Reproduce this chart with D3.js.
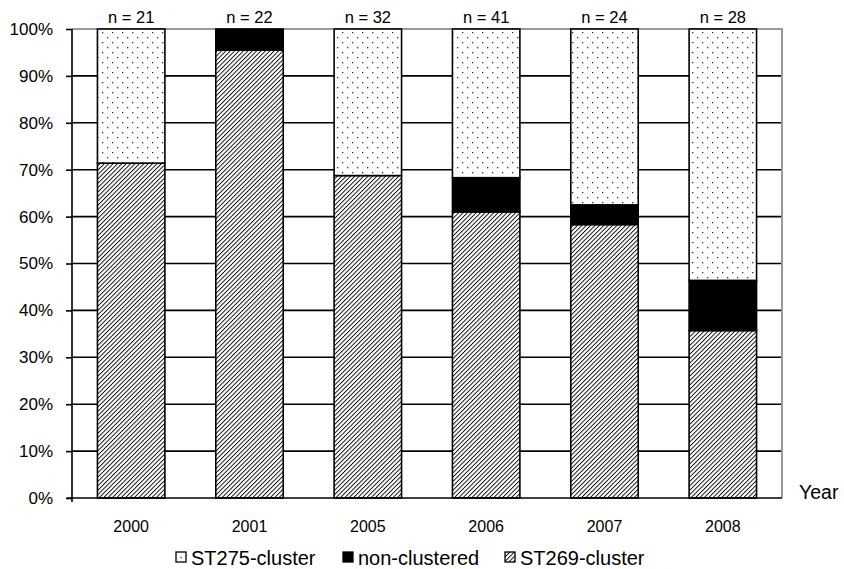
<!DOCTYPE html>
<html><head><meta charset="utf-8">
<script src="https://cdn.jsdelivr.net/npm/d3@7"></script>
<style>body{margin:0;background:#fff}svg{display:block;font-family:"Liberation Sans",Arial,sans-serif}</style>
</head><body>
<svg id="c" width="844" height="569"></svg>
<script>
const years = ["2000","2001","2005","2006","2007","2008"];
const nLabels = ["n = 21","n = 22","n = 32","n = 41","n = 24","n = 28"];
const st269 = [71.4, 95.5, 68.75, 61.0, 58.3, 35.7];
const nonClustered = [0, 4.5, 0, 7.3, 4.2, 10.7];
const st275 = [28.6, 0, 31.25, 31.7, 37.5, 53.6];
const yTicks = [0,10,20,30,40,50,60,70,80,90,100];
const seriesNames = ["ST269-cluster","non-clustered","ST275-cluster"];
const legendOrder = ["ST275-cluster","non-clustered","ST269-cluster"];

const FF = "Liberation Sans, Arial, sans-serif";
const svg = d3.select("#c");
const m = {l:72, r:782, t:29, b:498};
const x = d3.scaleBand().domain(years).range([m.l, m.r]).paddingInner(0.43).paddingOuter(0.215);
const y = d3.scaleLinear().domain([0,100]).range([m.b, m.t]);

const defs = svg.append("defs");
const P = 3.1;
const hatch = defs.append("pattern").attr("id","hatch").attr("patternUnits","userSpaceOnUse")
  .attr("width",P).attr("height",P).attr("patternTransform","rotate(45)");
hatch.append("rect").attr("width",P).attr("height",P).attr("fill","#fff");
hatch.append("line").attr("x1",0).attr("y1",0).attr("x2",0).attr("y2",P).attr("stroke","#000").attr("stroke-width",1.8);
const dots = defs.append("pattern").attr("id","dots").attr("patternUnits","userSpaceOnUse")
  .attr("width",10).attr("height",10);
dots.append("rect").attr("width",10).attr("height",10).attr("fill","#fff");
dots.append("rect").attr("x",2).attr("y",2).attr("width",1.3).attr("height",1.3).attr("fill","#333");
dots.append("rect").attr("x",7).attr("y",7).attr("width",1.3).attr("height",1.3).attr("fill","#333");

const fills = {"ST269-cluster":"url(#hatch)","non-clustered":"#000","ST275-cluster":"url(#dots)"};

// gridlines
svg.append("g").selectAll("line").data(yTicks.filter(d=>d>0 && d<100)).join("line")
  .attr("x1",m.l).attr("x2",m.r).attr("y1",d=>y(d)).attr("y2",d=>y(d))
  .attr("stroke","#000").attr("stroke-width",1.6);
// plot border (top/right gray)
svg.append("path").attr("d",`M${m.l},${m.t}H${m.r}V${m.b}`).attr("fill","none").attr("stroke","#999").attr("stroke-width",2);

// stacked bars
const rows = years.map((yr,i)=>({year:yr,"ST269-cluster":st269[i],"non-clustered":nonClustered[i],"ST275-cluster":st275[i]}));
const stack = d3.stack().keys(seriesNames)(rows);
const gBars = svg.append("g");
stack.forEach(s=>{
  gBars.append("g").selectAll("rect").data(s.filter(d=>d[1]-d[0]>0)).join("rect")
    .attr("x",d=>x(d.data.year)).attr("width",x.bandwidth())
    .attr("y",d=>y(d[1])).attr("height",d=>y(d[0])-y(d[1]))
    .attr("fill",fills[s.key]).attr("stroke","#000").attr("stroke-width",1.6);
});

// y axis
const yAxis = d3.axisLeft(y).tickValues(yTicks).tickFormat(d=>d+"%").tickSize(6).tickSizeOuter(0);
const ya = svg.append("g").attr("transform",`translate(${m.l},0)`).call(yAxis);
ya.select(".domain").attr("stroke","#000").attr("stroke-width",1.6).attr("d",`M0,${m.t}V${m.b+4}`);
ya.selectAll(".tick line").attr("stroke","#000").attr("stroke-width",1.6);
ya.selectAll("text").attr("font-size",17).attr("fill","#000").attr("x",-19).attr("font-family",FF);

// x axis
const xAxis = d3.axisBottom(x).tickSize(0).tickSizeOuter(0);
const xa = svg.append("g").attr("transform",`translate(0,${m.b})`).call(xAxis);
xa.select(".domain").attr("stroke","#000").attr("stroke-width",1.6).attr("d",`M${m.l-5},0H${m.r}`);
xa.selectAll("text").attr("font-size",16).attr("fill","#000").attr("y",23).attr("dy","0.71em").attr("font-family",FF);

// n labels
svg.append("g").selectAll("text").data(years).join("text")
  .attr("x",d=>x(d)+x.bandwidth()/2).attr("y",23).attr("text-anchor","middle")
  .attr("font-size",16.5).text((d,i)=>nLabels[i]);

svg.append("text").attr("x",799).attr("y",499).attr("font-size",19.5).text("Year");

// legend
const legX = [176, 343, 505];
const lg = svg.append("g");
legendOrder.forEach((k,i)=>{
  const g = lg.append("g").attr("transform",`translate(${legX[i]},552)`);
  g.append("rect").attr("x",0).attr("y",0).attr("width",10).attr("height",10)
    .attr("fill",k==="ST275-cluster"?"#fff":fills[k]).attr("stroke","#000").attr("stroke-width",1.3);
  if(k==="ST275-cluster") g.append("rect").attr("x",4.5).attr("y",5).attr("width",1.2).attr("height",1.2).attr("fill","#000");
  g.append("text").attr("x",15).attr("y",13).attr("font-size",20).text(k);
});
</script>
</body></html>
